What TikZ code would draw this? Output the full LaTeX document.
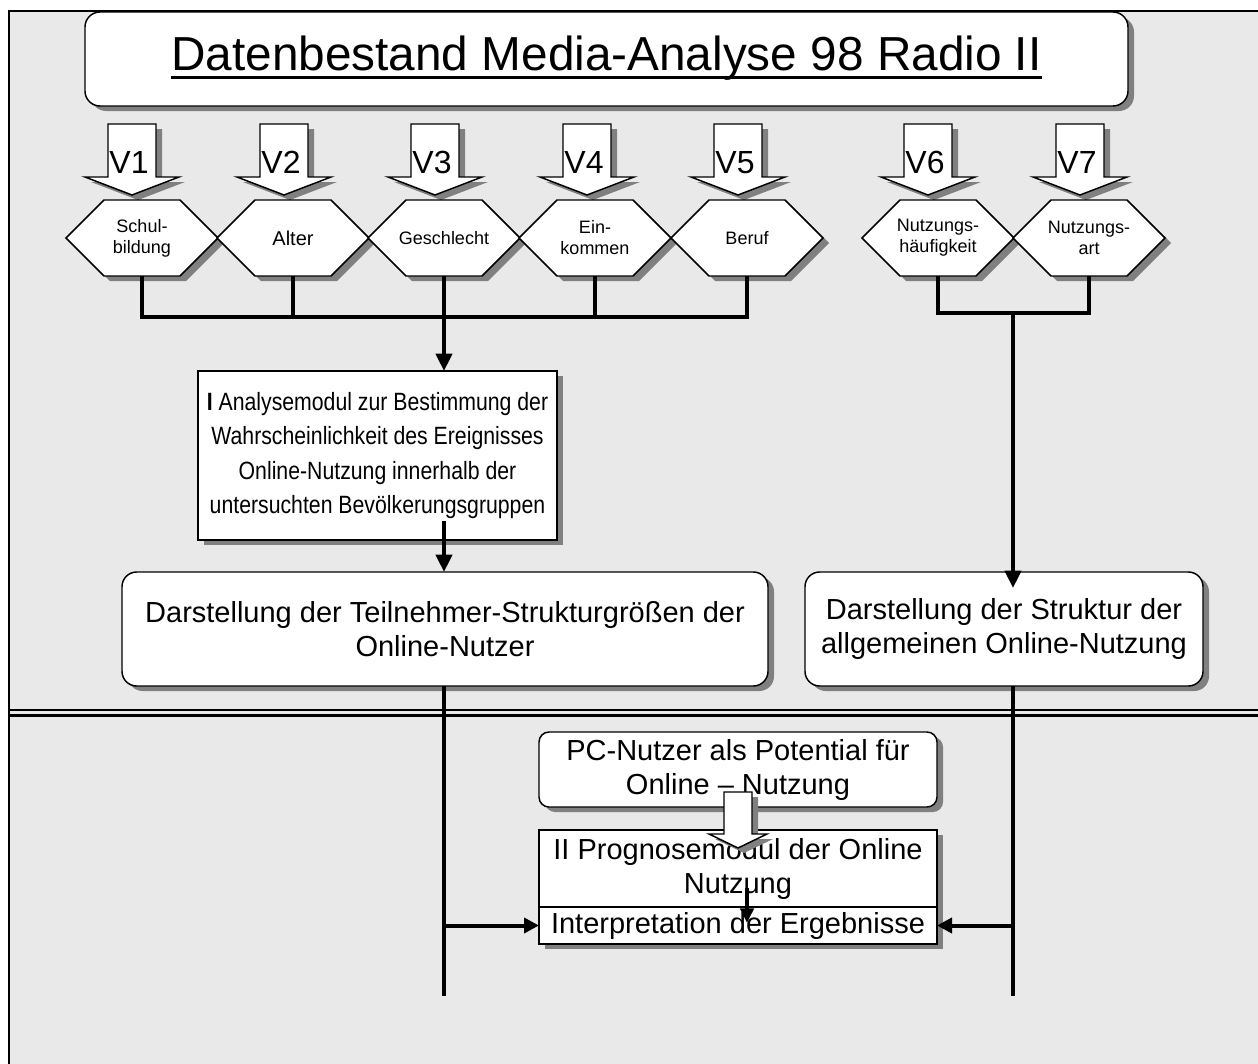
\documentclass[tikz,border=0pt]{standalone}
\usepackage{fontspec}
\setmainfont{Liberation Sans}
\newfontfamily\narrowsans[FakeStretch=0.85]{Liberation Sans}
\usetikzlibrary{arrows.meta,calc,shadows}
\definecolor{bggray}{RGB}{233,233,233}
\definecolor{shgray}{RGB}{128,128,128}
\newcommand\boxfont{\fontsize{21.75pt}{25.5pt}\selectfont}
\newcommand\hexfont{\fontsize{13.5pt}{15.75pt}\selectfont}
\tikzset{
  every node/.style={inner sep=0pt, outer sep=0pt},
  sz/.style 2 args={minimum width=#1*0.75pt, minimum height=#2*0.75pt},
  shd/.style={drop shadow={shadow xshift=4.5pt, shadow yshift=-3.75pt, fill=shgray, opacity=1}},
  blk/.style={draw, line width=1.1pt, fill=white, line join=miter, shd},
  rbox/.style={blk, rounded corners=11pt, align=center, font=\boxfont},
  sbox/.style={blk, align=center, font=\boxfont},
  hexlabel/.style={sz={152}{76}, align=center, font=\hexfont},
  vlabel/.style={font=\fontsize{24pt}{28pt}\selectfont},
  conn/.style={line width=3pt, line join=miter},
  arr/.style={conn, -{Triangle[width=12pt,length=13pt]}},
  harr/.style={conn, -{Triangle[width=11.25pt,length=11.25pt]}},
  sarr/.style={line width=2.6pt, -{Triangle[width=10pt,length=11pt]}},
}
\newcommand\varrow[3]{%
  \path[blk] (#2-24,124) -- (#2+24,124) -- (#2+24,177) -- (#2+47,177) -- (#2,195) -- (#2-47,177) -- (#2-24,177) -- cycle;
  \node[vlabel, anchor=base] (#1) at (#2-3,173) {#3};
}
\newcommand\hexa[3]{%
  \path[blk] (#2-76,238) -- (#2-38,200) -- (#2+38,200) -- (#2+76,238) -- (#2+38,276) -- (#2-38,276) -- cycle;
  \node[hexlabel] (#1) at (#2,238) {#3};
}
\begin{document}
\begin{tikzpicture}[x=0.75pt,y=-0.75pt]
\useasboundingbox (0,0) rectangle (1258,1064);
\fill[bggray] (9,11) rectangle (1258,1064);
\draw[line width=1.2pt] (9,1064) -- (9,11) -- (1258,11);

% title
\node[rbox, rounded corners=11.25pt, sz={1043}{94}] (title) at (606.5,59) {};
\node[anchor=base, font=\fontsize{35.8pt}{40pt}\selectfont] (ttl) at (606.5,70) {Datenbestand Media-Analyse 98 Radio II};
\draw[line width=2.6pt] ([yshift=-5.5pt]ttl.base west) -- ([yshift=-5.5pt]ttl.base east);

% input arrows
\varrow{v1}{132}{V1}
\varrow{v2}{284}{V2}
\varrow{v3}{435}{V3}
\varrow{v4}{587}{V4}
\varrow{v5}{738}{V5}
\varrow{v6}{928}{V6}
\varrow{v7}{1080}{V7}

% hexagons
\hexa{h1}{142}{Schul-\\bildung}
\hexa{h2}{293}{\fontsize{15pt}{17pt}\selectfont Alter}
\hexa{h3}{444}{Geschlecht}
\hexa{h4}{595}{Ein-\\kommen}
\hexa{h5}{747}{Beruf}
\hexa{h6}{938}{Nutzungs-\\häufigkeit}
\hexa{h7}{1089}{Nutzungs-\\art}

% buses
\coordinate (busL) at (444,317);
\coordinate (busR) at (1013,313);
\coordinate (endL) at (444,996);
\coordinate (endR) at (1013,996);
\draw[conn] (h1.south) -- (h1.south |- busL) -- (h5.south |- busL) -- (h5.south);
\foreach \h in {h2,h3,h4} \draw[conn] (\h.south) -- (\h.south |- busL);
\draw[conn] (h6.south) -- (h6.south |- busR) -- (h7.south |- busR) -- (h7.south);

% upper boxes
\node[sbox, font=\narrowsans\fontsize{18.75pt}{25.7pt}\selectfont, sz={359}{169}] (mod1) at (377.5,455.5) {\textbf{I} Analysemodul zur Bestimmung der\\Wahrscheinlichkeit des Ereignisses\\Online-Nutzung innerhalb der\\untersuchten Bevölkerungsgruppen};
\node[rbox, sz={646}{114}] (dt) at (445,629) {Darstellung der Teilnehmer-Strukturgrößen der\\Online-Nutzer};
\node[rbox, sz={398}{114}] (ds) at (1004,629) {Darstellung der Struktur der\\allgemeinen Online-Nutzung};

\draw[arr] (busL) -- (busL |- mod1.north);
\draw[arr] ($(busL |- mod1.south)+(0,-19)$) -- (busL |- dt.north);
\draw[arr] (busR) -- ($(busR |- ds.north)+(0,16)$);

% separator
\draw[line width=1.5pt] (9,710) -- (1258,710);
\draw[line width=1.9pt] (9,715.5) -- (1258,715.5);

\draw[conn] (busL |- dt.south) -- (endL);
\draw[conn] (busR |- ds.south) -- (endR);

% lower boxes
\node[rbox, rounded corners=7.5pt, sz={398}{75}] (pc) at (738,769.5) {PC-Nutzer als Potential für\\Online – Nutzung};
\node[sbox, sz={398}{77}] (prog) at (738,868.5) {II Prognosemodul der Online\\Nutzung};
\node[sbox, sz={398}{37}] (interp) at (738,925.5) {Interpretation der Ergebnisse};

\draw[harr] (interp.west -| endL) -- (interp.west);
\draw[harr] (interp.east -| endR) -- (interp.east);

\path[blk] ($(pc.south)+(-14,-15)$) -- ($(pc.south)+(14,-15)$) -- ($(pc.south)+(14,27)$) -- ($(pc.south)+(29,27)$) -- ($(pc.south)+(0,41)$) -- ($(pc.south)+(-29,27)$) -- ($(pc.south)+(-14,27)$) -- cycle;
\draw[sarr] ($(prog.south)+(9,-19)$) -- ($(prog.south)+(9,16)$);
\end{tikzpicture}
\end{document}
